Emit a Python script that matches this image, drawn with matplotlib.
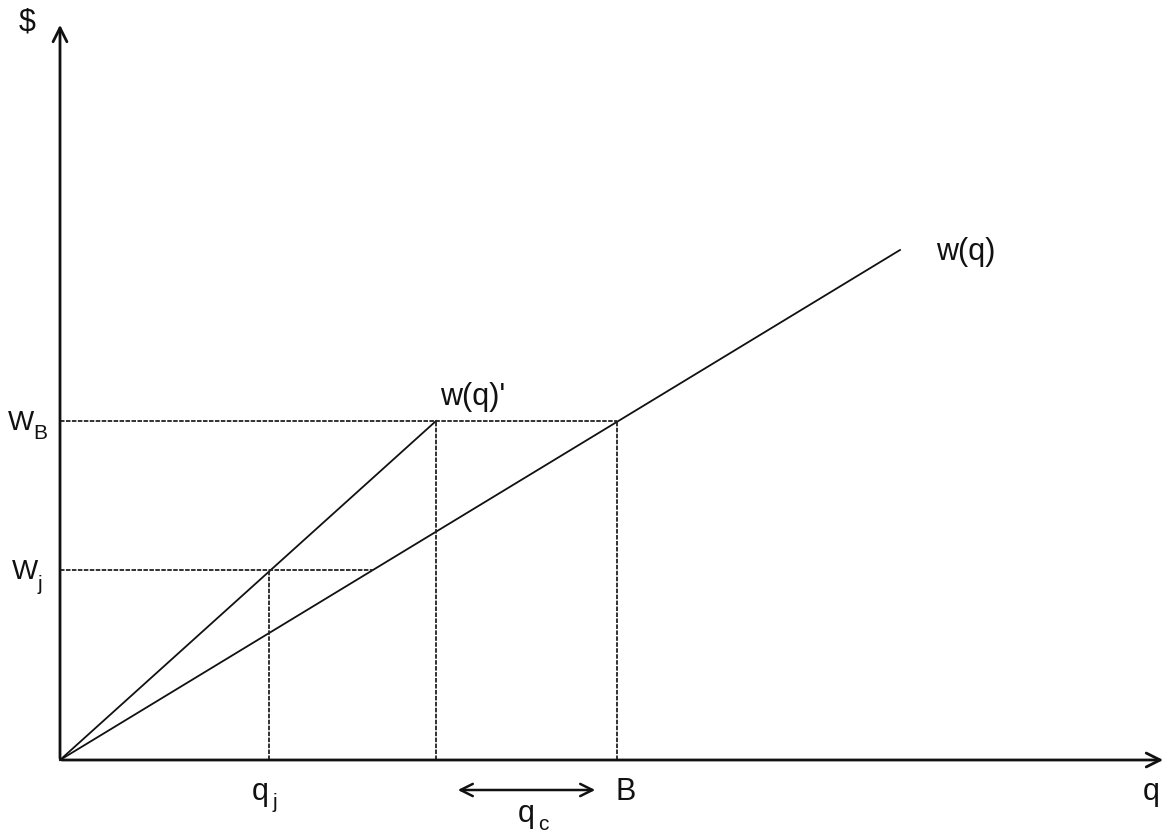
import matplotlib
matplotlib.use("Agg")
import matplotlib.pyplot as plt

plt.rcParams['font.family'] = ['Liberation Sans', 'DejaVu Sans']

# quantities (origin at 0, 0)
q_j = 2.09
q_prime = 3.76
q_B = 5.57
W_j = 1.90
W_B = 3.39
wq_end = (8.40, 5.10)          # end of the w(q) line
wq_Wj = W_j * wq_end[0] / wq_end[1]   # where W_j meets w(q)
x_max = 11.06
y_max = 7.38

fig = plt.figure(figsize=(11.69, 8.32), dpi=100)
ax = fig.add_axes([0, 0, 1, 1])
ax.set_xlim(-0.60, 11.09)
ax.set_ylim(-0.72, 7.60)
ax.axis('off')

# axes with open arrow heads
ax.annotate('', xy=(x_max, 0), xytext=(-0.01, 0),
            arrowprops=dict(arrowstyle='->', lw=2, color='#111', mutation_scale=25))
ax.annotate('', xy=(0, y_max), xytext=(0, -0.01),
            arrowprops=dict(arrowstyle='->', lw=2, color='#111', mutation_scale=25))

# wage lines
ax.plot([0, wq_end[0]], [0, wq_end[1]], color='#111', lw=1.3)
ax.plot([0, q_prime], [0, W_B], color='#111', lw=1.3)

# dashed guides
dash = dict(color='#222', lw=1.3, linestyle=(0, (2.5, 0.8)))
ax.plot([0, q_B], [W_B, W_B], **dash)
ax.plot([0, wq_Wj], [W_j, W_j], **dash)
ax.plot([q_j, q_j], [0, W_j], **dash)
ax.plot([q_prime, q_prime], [0, W_B], **dash)
ax.plot([q_B, q_B], [0, W_B], **dash)

# q_c double arrow
ax.annotate('', xy=(q_B - 0.19, -0.30), xytext=(q_prime + 0.19, -0.30),
            arrowprops=dict(arrowstyle='<->', lw=1.8, color='#111', mutation_scale=22))

fs = 22
sub = 15
c = '#111'
ax.text(-0.33, 7.30, '$', fontsize=fs, color=c, ha='center', va='baseline')
ax.text(10.91, -0.40, 'q', fontsize=fs, color=c, ha='center', va='baseline')
ax.text(-0.52, W_B - 0.09, 'W', fontsize=20, color=c, va='baseline')
ax.text(-0.265, W_B - 0.18, 'B', fontsize=sub, color=c, va='baseline')
ax.text(-0.48, W_j - 0.09, 'W', fontsize=20, color=c, va='baseline')
ax.text(-0.225, W_j - 0.20, 'j', fontsize=sub, color=c, va='baseline')
ax.text(1.92, -0.40, 'q', fontsize=fs, color=c, va='baseline')
ax.text(2.13, -0.48, 'j', fontsize=sub, color=c, va='baseline')
ax.text(5.55, -0.40, 'B', fontsize=fs, color=c, va='baseline')
ax.text(4.58, -0.62, 'q', fontsize=fs, color=c, va='baseline')
ax.text(4.78, -0.70, 'c', fontsize=sub, color=c, va='baseline')
ax.text(3.80, 3.55, "w(q)'", fontsize=fs, color=c, va='baseline')
ax.text(8.76, 5.00, 'w(q)', fontsize=fs, color=c, va='baseline')

fig.savefig('out.png', dpi=100)
